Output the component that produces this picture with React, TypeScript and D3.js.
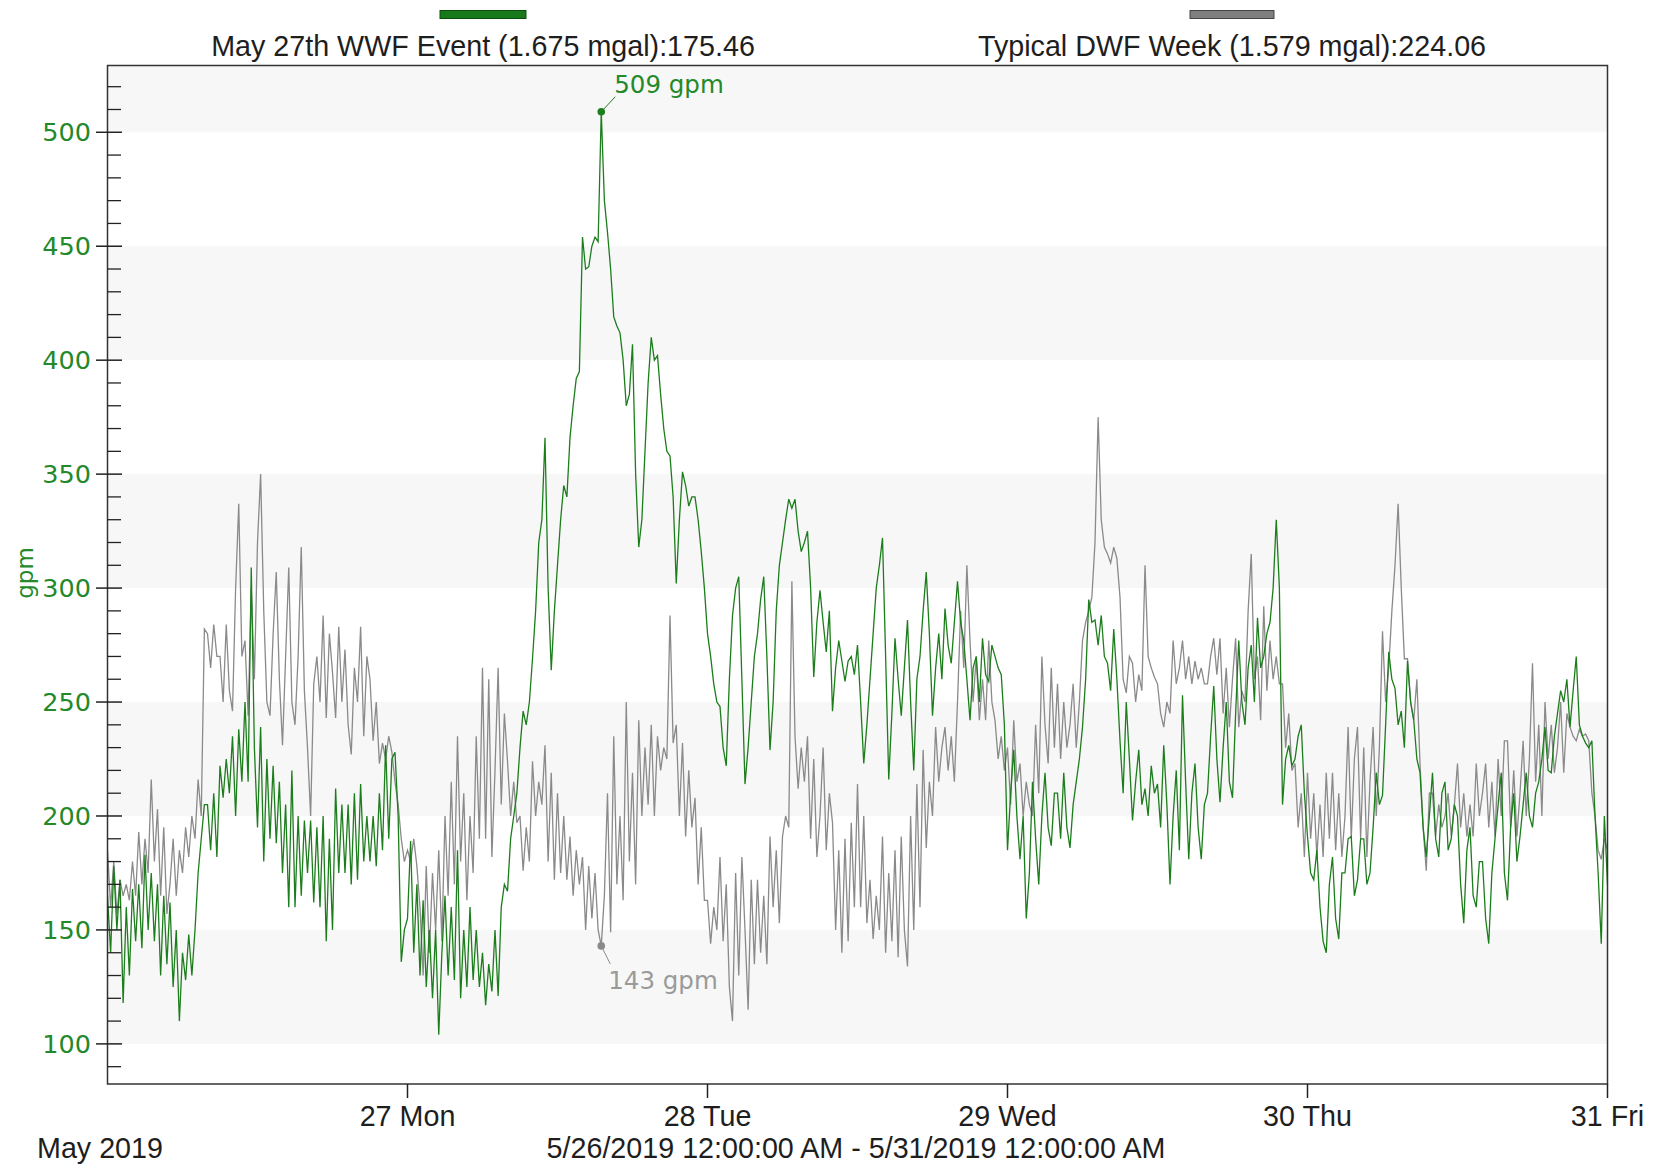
import React from "react";
import * as d3 from "d3";

// ---------- DATA (15-minute samples, 26 May 2019 00:00 .. 31 May 2019 00:00) ----------
const START = new Date(2019, 4, 26, 0, 0, 0);
const END = new Date(2019, 4, 31, 0, 0, 0);
const STEP_MINUTES = 15;

const wwfEventLabel = "May 27th WWF Event (1.675 mgal):175.46";
const typicalDwfLabel = "Typical DWF Week (1.579 mgal):224.06";
const monthLabel = "May 2019";
const rangeLabel = "5/26/2019 12:00:00 AM - 5/31/2019 12:00:00 AM";
const yAxisTitle = "gpm";
const yMajorTicks = [100, 150, 200, 250, 300, 350, 400, 450, 500];
const yDomain = [82.4, 529.3];

// May 27th WWF Event (green)
const wwfEvent = [
  165,140,178,150, 172,118,160,130, 168,145,170,142, 183,150,175,145,
  170,130,165,135, 162,125,150,110, 140,128,148,130, 150,175,190,205,
  205,185,210,182, 222,208,225,210, 235,200,238,215, 250,215,309,230,
  195,239,180,225, 190,222,188,215, 175,205,160,220, 160,200,165,198,
  175,198,162,195, 160,200,145,190, 150,212,175,205, 175,205,170,210,
  172,214,180,200, 180,200,178,210, 185,231,190,225, 228,200,136,150,
  155,189,140,170, 130,163,125,150, 120,150,104,140, 165,130,160,128,
  185,120,150,125, 160,128,150,125, 140,117,135,123, 150,121,160,170,
  167,190,200,210, 230,246,240,250, 269,290,320,330, 366,300,264,290,
  310,330,345,340, 366,380,392,395, 454,440,441,450, 454,452,509,470,
  456,440,419,415, 412,400,380,385, 407,350,318,330, 360,390,410,400,
  402,385,370,360, 358,340,302,330, 351,345,336,340, 340,330,316,300,
  280,270,258,250, 248,230,222,260, 288,300,305,260, 214,230,250,270,
  280,295,305,270, 229,250,290,310, 320,330,339,335, 339,325,316,320,
  325,300,261,285, 299,285,272,290, 246,265,277,268, 259,268,270,262,
  275,250,223,240, 260,280,300,310, 322,270,216,245, 278,260,244,265,
  286,250,220,260, 270,290,307,280, 244,265,280,260, 291,275,267,285,
  303,285,277,260, 242,265,270,250, 278,262,259,275, 270,265,262,240,
  185,210,229,200, 181,200,155,175, 215,190,170,200, 219,195,187,210,
  210,190,219,195, 186,205,215,225, 239,260,295,285, 286,275,288,270,
  267,255,282,260, 233,210,250,225, 198,215,229,205, 212,200,222,210,
  214,195,231,205, 170,200,220,185, 253,215,181,210, 223,195,181,205,
  210,235,257,225, 206,230,250,215, 208,245,277,250, 240,265,275,250,
  287,265,270,280, 285,300,330,300, 205,225,231,222, 225,235,240,210,
  191,175,172,185, 160,145,140,170, 182,155,146,175, 175,190,191,165,
  172,190,190,170, 175,195,219,205, 209,240,272,260, 256,240,246,230,
  268,250,242,225, 219,195,182,200, 219,190,182,210, 215,185,190,205,
  200,170,153,185, 195,165,160,180, 180,155,144,175, 190,205,219,175,
  163,195,210,180, 191,205,219,200, 195,210,215,225, 239,220,219,235,
  245,255,250,260, 239,255,270,240, 235,232,230,233, 200,175,144,200,
  170,
];

// Typical DWF Week (gray)
const typicalDwf = [
  185,160,180,157, 172,165,170,163, 180,165,193,170, 190,175,216,180,
  203,165,195,157, 170,190,165,185, 175,195,182,200, 190,216,200,282,
  280,265,284,270, 270,250,284,255, 246,300,337,270, 277,244,300,260,
  320,350,290,250, 244,280,307,260, 231,270,309,250, 240,270,318,255,
  230,200,258,270, 250,288,243,280, 263,243,283,250, 273,240,227,265,
  250,283,235,270, 260,233,250,223, 232,225,235,228, 215,205,190,180,
  185,180,190,178, 160,130,178,140, 175,150,185,145, 200,165,215,170,
  235,180,210,163, 200,175,235,190, 265,190,260,182, 220,265,205,245,
  224,200,215,197, 200,176,195,180, 224,200,215,205, 231,180,219,172,
  210,175,200,172, 191,165,185,170, 182,150,178,155, 175,150,143,165,
  210,149,235,170, 200,163,250,180, 219,170,242,200, 230,205,240,200,
  235,220,230,225, 288,232,240,200, 232,191,220,195, 208,170,195,163,
  163,144,160,150, 182,145,170,125, 110,175,130,182, 150,115,172,135,
  172,140,165,135, 191,160,185,153, 191,200,195,303, 235,212,230,215,
  235,190,225,182, 200,230,185,210, 197,150,185,140, 190,145,197,160,
  214,160,200,153, 172,146,165,150, 191,140,175,145, 185,138,191,150,
  134,200,150,214, 160,229,186,215, 200,239,215,230, 239,220,235,215,
  250,290,265,310, 277,250,270,242, 260,242,277,250, 242,225,235,220,
  230,205,242,215, 223,200,215,205, 200,240,210,270, 240,223,265,230,
  258,225,250,230, 240,258,230,250, 277,285,290,296, 320,375,330,318,
  315,311,318,313, 296,260,254,270, 267,250,262,255, 310,270,265,261,
  258,245,239,250, 245,277,258,265, 277,260,270,258, 268,260,265,258,
  258,270,278,262, 278,245,265,239, 260,278,239,255, 250,290,315,260,
  270,242,292,255, 277,260,270,258, 258,230,245,220, 223,195,210,182,
  219,190,210,182, 205,182,219,190, 219,185,210,182, 200,239,190,225,
  239,190,230,182, 215,239,200,230, 281,250,265,290, 310,337,300,269,
  269,250,242,260, 223,195,176,210, 210,191,205,195, 200,210,191,205,
  223,195,210,191, 205,191,223,200, 210,223,195,215, 191,225,200,233,
  233,195,220,191, 210,233,200,225, 267,215,240,200, 250,225,240,219,
  230,250,219,245, 239,235,233,238, 235,236,233,210, 200,185,181,190,
  185,
];

// ---------- STYLE ----------
const GREEN_LINE = "#1c7d1c";
const GREEN_TEXT = "#23892a";
const GRAY_LINE = "#8a8a8a";
const GRAY_TEXT = "#9a9a9a";
const BAND = "#f7f7f7";
const TEXT = "#1e1e1e";
const LABEL_FONT = "'Liberation Sans', Arial, sans-serif";
const NUM_FONT = "'DejaVu Sans', Verdana, sans-serif";
const LABEL_SIZE = 28.7;

const W = 1655;
const H = 1165;
const PL = 107.5, PR = 1607.5, PT = 65.5, PB = 1084;

export default function App() {
  const x = d3.scaleTime().domain([START, END]).range([PL, PR]);
  const y = d3.scaleLinear().domain(yDomain).range([PB, PT]);

  const timeAt = (i: number) => new Date(START.getTime() + i * STEP_MINUTES * 60000);
  const greenPts = wwfEvent.map((v, i) => ({ t: timeAt(i), v }));
  const grayPts = typicalDwf.map((v, i) => ({ t: timeAt(i), v }));

  const line = d3
    .line<{ t: Date; v: number }>()
    .x((d) => x(d.t))
    .y((d) => y(d.v))
    .curve(d3.curveLinear);

  const peakIdx = d3.maxIndex(wwfEvent);
  const peak = greenPts[peakIdx];
  const grayAtPeak = grayPts[peakIdx];

  const dayTicks = x.ticks(d3.timeDay.every(1)!).filter((d) => d > START);
  const fmtDay = d3.timeFormat("%-d %a");

  const minorTicks = d3.range(90, 521, 10).filter((v) => v % 50 !== 0);
  const bandStarts = [100, 200, 300, 400, 500];

  const px = x(peak.t);
  const py = y(peak.v);
  const gx = x(grayAtPeak.t);
  const gy = y(grayAtPeak.v);

  return (
    <svg
      width={W}
      height={H}
      viewBox={`0 0 ${W} ${H}`}
      style={{ position: "absolute", left: 0, top: 0, background: "#fff" }}
    >
      <defs>
        <clipPath id="plotClip">
          <rect x={PL} y={PT} width={PR - PL} height={PB - PT} />
        </clipPath>
      </defs>
      <rect x={0} y={0} width={W} height={H} fill="#fff" />

      {/* bands */}
      <g clipPath="url(#plotClip)">
        {bandStarts.map((b) => (
          <rect
            key={b}
            x={PL}
            y={y(b + 50)}
            width={PR - PL}
            height={y(b) - y(b + 50)}
            fill={BAND}
          />
        ))}
      </g>

      {/* series */}
      <g clipPath="url(#plotClip)">
        <path d={line(grayPts) || ""} fill="none" stroke={GRAY_LINE} strokeWidth={1.3} />
        <path d={line(greenPts) || ""} fill="none" stroke={GREEN_LINE} strokeWidth={1.3} />
      </g>

      {/* annotations */}
      <circle cx={px} cy={py} r={3.8} fill={GREEN_LINE} />
      <line x1={px} y1={py} x2={px + 14} y2={py - 15} stroke={GREEN_LINE} strokeWidth={1} />
      <text x={px + 13} y={py - 19} fontFamily={NUM_FONT} fontSize={24.5} fill={GREEN_TEXT}>
        {`${peak.v} gpm`}
      </text>
      <circle cx={gx} cy={gy} r={3.8} fill={GRAY_LINE} />
      <line x1={gx} y1={gy} x2={gx + 9} y2={gy + 18} stroke={GRAY_LINE} strokeWidth={1} />
      <text x={gx + 7} y={gy + 43} fontFamily={NUM_FONT} fontSize={24.5} fill={GRAY_TEXT}>
        {`${grayAtPeak.v} gpm`}
      </text>

      {/* frame */}
      <rect x={PL} y={PT} width={PR - PL} height={PB - PT} fill="none" stroke="#333" strokeWidth={1.5} />

      {/* y axis ticks */}
      {yMajorTicks.map((v) => (
        <g key={v}>
          <line x1={96} x2={122} y1={y(v)} y2={y(v)} stroke="#222" strokeWidth={1.5} />
          <text
            x={91}
            y={y(v)}
            dy="0.36em"
            textAnchor="end"
            fontFamily={NUM_FONT}
            fontSize={25.5}
            fill={GREEN_TEXT}
          >
            {v}
          </text>
        </g>
      ))}
      {minorTicks.map((v) => (
        <line key={v} x1={PL} x2={121} y1={y(v)} y2={y(v)} stroke="#222" strokeWidth={1.3} />
      ))}
      <text
        transform={`translate(25,573) rotate(-90)`}
        textAnchor="middle"
        dy="0.35em"
        fontFamily={NUM_FONT}
        fontSize={23}
        fill={GREEN_TEXT}
      >
        {yAxisTitle}
      </text>

      {/* x axis ticks */}
      {dayTicks.map((d) => (
        <g key={d.getTime()}>
          <line x1={x(d)} x2={x(d)} y1={PB} y2={PB + 14} stroke="#222" strokeWidth={1.5} />
          <text
            x={x(d)}
            y={1126}
            textAnchor="middle"
            fontFamily={LABEL_FONT}
            fontSize={LABEL_SIZE}
            fill={TEXT}
          >
            {fmtDay(d)}
          </text>
        </g>
      ))}
      <text x={37} y={1158} fontFamily={LABEL_FONT} fontSize={LABEL_SIZE} fill={TEXT}>
        {monthLabel}
      </text>
      <text x={856} y={1158} textAnchor="middle" fontFamily={LABEL_FONT} fontSize={LABEL_SIZE} fill={TEXT}>
        {rangeLabel}
      </text>

      {/* legend */}
      <rect x={440} y={10.5} width={86} height={8} fill="#17791a" stroke="#0d4d0d" strokeWidth={1} />
      <text x={483} y={56} textAnchor="middle" fontFamily={LABEL_FONT} fontSize={LABEL_SIZE} fill={TEXT}>
        {wwfEventLabel}
      </text>
      <rect x={1190} y={10.5} width={84} height={8} fill="#7f7f7f" stroke="#444" strokeWidth={1} />
      <text x={1232} y={56} textAnchor="middle" fontFamily={LABEL_FONT} fontSize={LABEL_SIZE} fill={TEXT}>
        {typicalDwfLabel}
      </text>
    </svg>
  );
}
